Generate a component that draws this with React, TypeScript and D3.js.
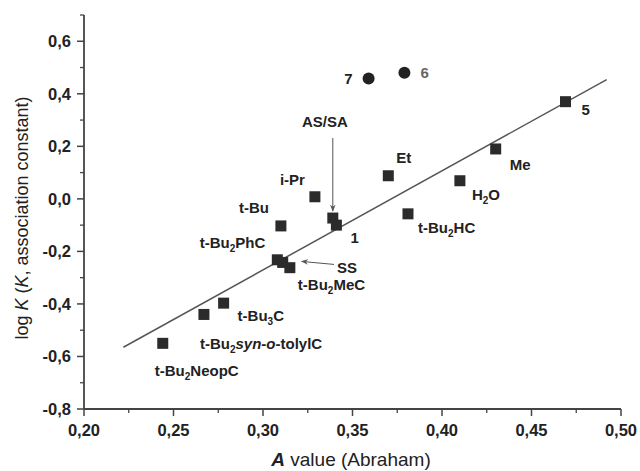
import React from "react";
import * as d3 from "d3";

// ---- data ----
const compounds = ["t-Bu2NeopC", "t-Bu2syn-o-tolylC", "t-Bu3C", "t-Bu2PhC", "SS", "t-Bu2MeC", "t-Bu", "i-Pr", "AS/SA", "1", "Et", "t-Bu2HC", "H2O", "Me", "5"];
const aValues = [0.244, 0.267, 0.278, 0.308, 0.311, 0.315, 0.310, 0.329, 0.339, 0.341, 0.370, 0.381, 0.410, 0.430, 0.469];
const logK = [-0.55, -0.44, -0.397, -0.232, -0.242, -0.262, -0.103, 0.008, -0.073, -0.10, 0.088, -0.057, 0.069, 0.19, 0.37];

const outlierNames = ["7", "6"];
const outlierA = [0.359, 0.379];
const outlierLogK = [0.458, 0.48];

const fitX = [0.222, 0.492];
const fitY = [-0.565, 0.454];

const xTicks = [0.2, 0.25, 0.3, 0.35, 0.4, 0.45, 0.5];
const xTickLabels = ["0,20", "0,25", "0,30", "0,35", "0,40", "0,45", "0,50"];
const yTicks = [0.6, 0.4, 0.2, 0.0, -0.2, -0.4, -0.6, -0.8];
const yTickLabels = ["0,6", "0,4", "0,2", "0,0", "-0,2", "-0,4", "-0,6", "-0,8"];

// label layout (pixel offsets from the point)
type Lab = { dx: number; dy: number; anchor: string };
const labelLayout: Record<string, Lab> = {
  "t-Bu2NeopC": { dx: -8, dy: 27, anchor: "start" },
  "t-Bu2syn-o-tolylC": { dx: -4, dy: 29, anchor: "start" },
  "t-Bu3C": { dx: 14, dy: 12, anchor: "start" },
  "t-Bu2PhC": { dx: -12, dy: -17, anchor: "end" },
  "t-Bu2MeC": { dx: 8, dy: 17, anchor: "start" },
  "t-Bu": { dx: -12, dy: -18, anchor: "end" },
  "i-Pr": { dx: -10, dy: -17, anchor: "end" },
  "1": { dx: 14, dy: 12, anchor: "start" },
  "Et": { dx: 8, dy: -18, anchor: "start" },
  "t-Bu2HC": { dx: 10, dy: 14, anchor: "start" },
  "H2O": { dx: 12, dy: 14, anchor: "start" },
  "Me": { dx: 14, dy: 16, anchor: "start" },
  "5": { dx: 16, dy: 8, anchor: "start" },
};

const W = 640, H = 471;
const FONT = "'Liberation Sans', Arial, Helvetica, sans-serif";
const INK = "#222";

function renderLabel(name: string) {
  if (name === "H2O") {
    return [<tspan key="a">H</tspan>, <tspan key="b" fontSize="10" dy="4">2</tspan>, <tspan key="c" dy="-4">O</tspan>];
  }
  if (name.startsWith("t-Bu2")) {
    const rest = name.slice(5);
    const parts: any[] = [<tspan key="a">t-Bu</tspan>, <tspan key="b" fontSize="10" dy="4">2</tspan>];
    if (rest.startsWith("syn-o-tolyl")) {
      parts.push(<tspan key="c" dy="-4" fontStyle="italic">syn</tspan>);
      parts.push(<tspan key="d">-</tspan>);
      parts.push(<tspan key="e" fontStyle="italic">o</tspan>);
      parts.push(<tspan key="f">-tolylC</tspan>);
    } else {
      parts.push(<tspan key="c" dy="-4">{rest}</tspan>);
    }
    return parts;
  }
  if (name === "t-Bu3C") {
    return [<tspan key="a">t-Bu</tspan>, <tspan key="b" fontSize="10" dy="4">3</tspan>, <tspan key="c" dy="-4">C</tspan>];
  }
  return name;
}

export default function App() {
  const x = d3.scaleLinear().domain([0.2, 0.5]).range([84, 621]);
  const y = d3.scaleLinear().domain([-0.8, 0.7]).range([409, 15]);
  const x0 = x(0.2);
  const y0 = y(-0.8);

  const xMinor = d3.range(0.225, 0.5, 0.05);
  const yMinor = d3.range(-0.7, 0.75, 0.2);

  const line = d3.line<number>().x((d, i) => x(fitX[i])).y((d, i) => y(fitY[i]));

  const idx = (n: string) => compounds.indexOf(n);
  const asi = idx("AS/SA");
  const ssi = idx("SS");

  return (
    <svg width={W} height={H} style={{ position: "absolute", left: 0, top: 0, background: "#fff" }} fontFamily={FONT}>
      <defs>
        <marker id="ah" viewBox="0 0 10 10" refX="9" refY="5" markerWidth="7" markerHeight="7" orient="auto">
          <path d="M0,1 L10,5 L0,9 L3,5 Z" fill="#555" />
        </marker>
      </defs>
      <rect width={W} height={H} fill="#fff" />

      {/* axes */}
      <line x1={x0} x2={x(0.5)} y1={y0} y2={y0} stroke="#444" strokeWidth={1.8} />
      <line x1={x0} x2={x0} y1={y(0.7)} y2={y0} stroke="#444" strokeWidth={1.8} />
      {xTicks.map((t, i) => (
        <g key={"xt" + i}>
          <line x1={x(t)} x2={x(t)} y1={y0} y2={y0 + 7} stroke="#444" strokeWidth={1.5} />
          <text x={x(t)} y={436} textAnchor="middle" fontSize={16.5} fontWeight="bold" fill={INK}>{xTickLabels[i]}</text>
        </g>
      ))}
      {xMinor.map((t, i) => (
        <line key={"xm" + i} x1={x(t)} x2={x(t)} y1={y0} y2={y0 + 4} stroke="#444" strokeWidth={1.3} />
      ))}
      {yTicks.map((t, i) => (
        <g key={"yt" + i}>
          <line x1={x0 - 7} x2={x0} y1={y(t)} y2={y(t)} stroke="#444" strokeWidth={1.5} />
          <text x={71} y={y(t) + 6} textAnchor="end" fontSize={16.5} fontWeight="bold" fill={INK}>{yTickLabels[i]}</text>
        </g>
      ))}
      {yMinor.map((t, i) => (
        <line key={"ym" + i} x1={x0 - 4} x2={x0} y1={y(t)} y2={y(t)} stroke="#444" strokeWidth={1.3} />
      ))}

      {/* axis titles */}
      <text x={351} y={466} textAnchor="middle" fontSize={19} fill={INK}>
        <tspan fontWeight="bold" fontStyle="italic">A</tspan> value (Abraham)
      </text>
      <text transform={`translate(28,218) rotate(-90)`} textAnchor="middle" fontSize={18} fill={INK}>
        log <tspan fontStyle="italic">K</tspan> (<tspan fontStyle="italic">K</tspan>, association constant)
      </text>

      {/* fit line */}
      <path d={line(fitX) || ""} fill="none" stroke="#555" strokeWidth={1.5} />

      {/* squares */}
      {compounds.map((c, i) => (
        <rect key={"p" + i} x={x(aValues[i]) - 5.5} y={y(logK[i]) - 5.5} width={11} height={11} fill="#2b2b2b" />
      ))}
      {/* circles */}
      {outlierNames.map((c, i) => (
        <circle key={"c" + i} cx={x(outlierA[i])} cy={y(outlierLogK[i])} r={6} fill="#222" />
      ))}

      {/* labels */}
      {compounds.map((c, i) => {
        const L = labelLayout[c];
        if (!L) return null;
        return (
          <text key={"l" + i} x={x(aValues[i]) + L.dx} y={y(logK[i]) + L.dy + 5.5} textAnchor={L.anchor} fontSize={15} fontWeight="bold" fill={INK}>
            {renderLabel(c)}
          </text>
        );
      })}
      <text x={x(outlierA[0]) - 16} y={y(outlierLogK[0]) + 5.5} textAnchor="end" fontSize={15} fontWeight="bold" fill={INK}>7</text>
      <text x={x(outlierA[1]) + 16} y={y(outlierLogK[1]) + 5.5} textAnchor="start" fontSize={15} fontWeight="bold" fill="#666">6</text>

      {/* AS/SA with arrow */}
      <text x={x(aValues[asi]) - 8} y={127} textAnchor="middle" fontSize={15} fontWeight="bold" fill={INK}>AS/SA</text>
      <line x1={x(aValues[asi])} x2={x(aValues[asi])} y1={138} y2={y(logK[asi]) - 7} stroke="#555" strokeWidth={1} markerEnd="url(#ah)" />

      {/* SS with arrow */}
      <text x={337} y={y(logK[ssi]) + 5 + 5.5} textAnchor="start" fontSize={15} fontWeight="bold" fill={INK}>SS</text>
      <line x1={334} x2={x(aValues[ssi]) + 19} y1={y(logK[ssi]) + 2} y2={y(logK[ssi]) - 1} stroke="#555" strokeWidth={1} markerEnd="url(#ah)" />
    </svg>
  );
}
